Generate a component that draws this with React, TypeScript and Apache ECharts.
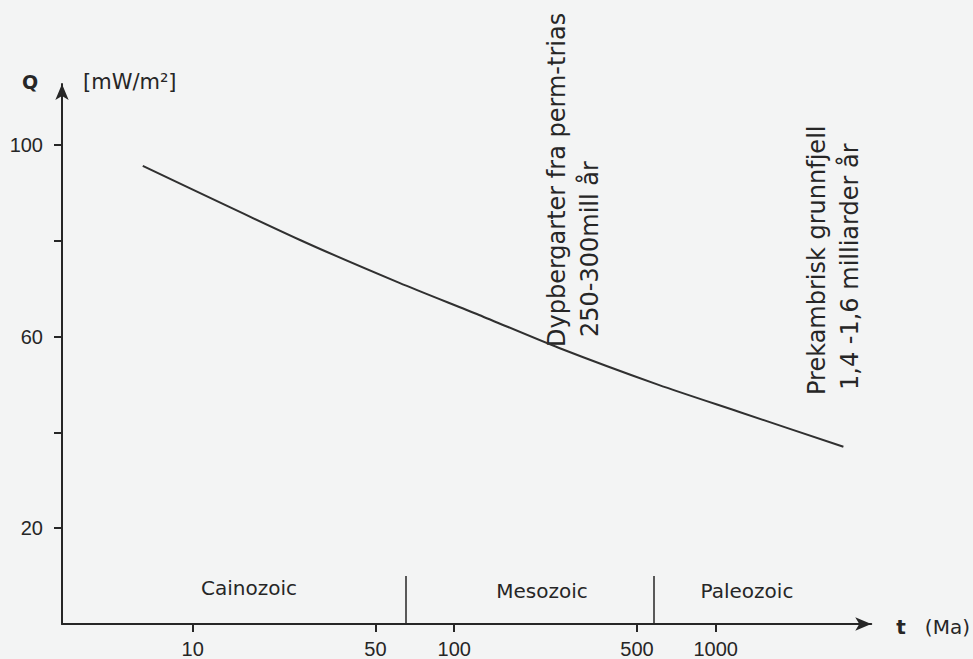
import React, { useEffect, useRef } from "react";
import * as echarts from "echarts";

// Heat flow Q (mW/m²) vs age t (Ma)
const ageMa = [6.44, 25.6, 61.7, 124.5, 252, 605, 1225, 3080];
const heatFlow = [95.6, 80.2, 71.2, 64.5, 57.6, 49.9, 44.3, 37.0];

const xTickValues = [10, 50, 100, 500, 1000];
const yTickValues = [20, 40, 60, 80, 100];
const yLabelValues = [20, 60, 100];
const eraBoundaries = [65, 580];
const eraNames = ["Cainozoic", "Mesozoic", "Paleozoic"];

const INK = "#262626";
const SANS = "'DejaVu Sans', 'Liberation Sans', sans-serif";
const TICKFONT = "'Liberation Sans', 'DejaVu Sans', sans-serif";

export default function App() {
  const ref = useRef<HTMLDivElement>(null);

  useEffect(() => {
    if (!ref.current) return;
    const chart = echarts.init(ref.current, null, { renderer: "svg" });

    const eraPos = [
      { x: 249, y: 588 },
      { x: 542, y: 591 },
      { x: 747, y: 591 },
    ];

    const option: any = {
      animation: false,
      backgroundColor: "#f3f4f4",
      grid: { left: 62, right: 100, top: 84, bottom: 35 },
      xAxis: {
        type: "log",
        logBase: 10,
        min: 3.162,
        max: 3936,
        name: "{b|t}   (Ma)",
        nameLocation: "end",
        nameGap: 25,
        nameTextStyle: {
          fontSize: 20,
          color: INK,
          fontFamily: SANS,
          verticalAlign: "middle",
          padding: [6, 0, 0, 0],
          rich: { b: { fontSize: 20, fontWeight: "bold", color: INK, fontFamily: SANS } },
        },
        axisLine: {
          show: true,
          symbol: ["none", "arrow"],
          symbolSize: [10, 16],
          lineStyle: { color: INK, width: 2 },
        },
        axisTick: {
          show: true,
          customValues: xTickValues,
          length: 8,
          lineStyle: { color: INK, width: 2 },
        },
        axisLabel: {
          customValues: xTickValues,
          formatter: (v: number) => String(Math.round(v)),
          fontSize: 20,
          color: INK,
          fontFamily: TICKFONT,
          margin: 15,
        },
        splitLine: { show: false },
        minorTick: { show: false },
      },
      yAxis: {
        type: "value",
        min: 0,
        max: 112.7,
        axisLine: {
          show: true,
          onZero: false,
          symbol: ["none", "arrow"],
          symbolSize: [10, 16],
          lineStyle: { color: INK, width: 2 },
        },
        axisTick: {
          show: true,
          customValues: yTickValues,
          length: 8,
          lineStyle: { color: INK, width: 2 },
        },
        axisLabel: {
          customValues: yLabelValues,
          fontSize: 20,
          color: INK,
          fontFamily: TICKFONT,
          margin: 19,
        },
        splitLine: { show: false },
      },
      series: [
        {
          type: "line",
          data: ageMa.map((t, i) => [t, heatFlow[i]]),
          smooth: 0.25,
          showSymbol: false,
          lineStyle: { color: "#303030", width: 2 },
          markLine: {
            silent: true,
            symbol: "none",
            label: { show: false },
            lineStyle: { type: "solid", color: INK, width: 1.5 },
            data: eraBoundaries.map((b) => [{ coord: [b, 0] }, { coord: [b, 10] }]),
          },
        },
      ],
      graphic: [
        {
          type: "text",
          x: 30,
          y: 82,
          style: { text: "Q", fontSize: 19, fontWeight: "bold", fill: INK, fontFamily: SANS, textAlign: "center", textVerticalAlign: "middle" },
        },
        {
          type: "text",
          x: 83,
          y: 82,
          style: { text: "[mW/m²]", fontSize: 21, fill: INK, fontFamily: SANS, textAlign: "left", textVerticalAlign: "middle" },
        },
        ...eraNames.map((name, i) => ({
          type: "text",
          x: eraPos[i].x,
          y: eraPos[i].y,
          style: { text: name, fontSize: 20, fill: INK, fontFamily: SANS, textAlign: "center", textVerticalAlign: "middle" },
        })),
        {
          type: "text",
          x: 557,
          y: 347,
          rotation: Math.PI / 2,
          style: { text: "Dypbergarter fra perm-trias", fontSize: 24, fill: INK, fontFamily: SANS, textAlign: "left", textVerticalAlign: "middle" },
        },
        {
          type: "text",
          x: 590,
          y: 337,
          rotation: Math.PI / 2,
          style: { text: "250-300mill år", fontSize: 24, fill: INK, fontFamily: SANS, textAlign: "left", textVerticalAlign: "middle" },
        },
        {
          type: "text",
          x: 817,
          y: 395,
          rotation: Math.PI / 2,
          style: { text: "Prekambrisk grunnfjell", fontSize: 24, fill: INK, fontFamily: SANS, textAlign: "left", textVerticalAlign: "middle" },
        },
        {
          type: "text",
          x: 850,
          y: 390,
          rotation: Math.PI / 2,
          style: { text: "1,4 -1,6 milliarder år", fontSize: 24, fill: INK, fontFamily: SANS, textAlign: "left", textVerticalAlign: "middle" },
        },
      ],
    };

    chart.setOption(option);
    return () => chart.dispose();
  }, []);

  return (
    <div
      ref={ref}
      style={{ position: "fixed", left: 0, top: 0, width: 973, height: 659 }}
    />
  );
}
